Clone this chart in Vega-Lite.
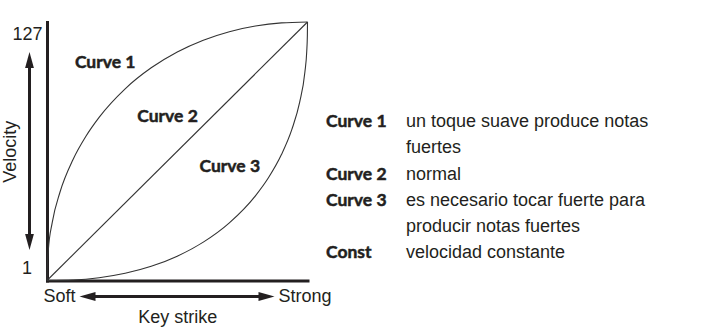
{
  "$schema": "https://vega.github.io/schema/vega-lite/v6.json",
  "background": "white",
  "padding": {"left": 1, "top": 19, "right": 0, "bottom": 0},
  "bounds": "flush",
  "spacing": 18,
  "config": {"view": {"stroke": null}, "font": "Liberation Sans"},
  "hconcat": [
    {
      "width": 260.5,
      "height": 258.5,
      "encoding": {
        "x": {
          "field": "strike",
          "type": "quantitative",
          "scale": {"domain": [0, 1], "nice": false, "zero": false},
          "axis": {
            "title": "Key strike",
            "values": [0, 1],
            "labelExpr": "datum.value == 0 ? 'Soft' : 'Strong'",
            "ticks": false,
            "tickSize": 0,
            "grid": false,
            "domainColor": "#231f20",
            "domainWidth": 3,
            "domainCap": "square",
            "labelFontSize": 18,
            "labelColor": "#231f20",
            "labelBaseline": "middle",
            "labelPadding": 16,
            "labelOffset": {"condition": {"test": "datum.value == 0", "value": 12}, "value": -3},
            "labelFlush": false,
            "labelOverlap": false,
            "titleFontSize": 18,
            "titleFontWeight": "normal",
            "titleColor": "#231f20",
            "titlePadding": 3
          }
        },
        "y": {
          "field": "velocity",
          "type": "quantitative",
          "scale": {"domain": [1, 127], "nice": false, "zero": false},
          "axis": {
            "title": "Velocity",
            "ticks": false,
            "tickSize": 0,
            "labels": false,
            "grid": false,
            "domainColor": "#231f20",
            "domainWidth": 3,
            "domainCap": "square",
            "titleFontSize": 18,
            "titleFontWeight": "normal",
            "titleColor": "#231f20",
            "titlePadding": 28
          }
        }
      },
      "layer": [
        {
          "data": {
            "values": [
              {"curve": "Curve 1", "strike": 0, "velocity": 1},
              {"curve": "Curve 1", "strike": 0.0005, "velocity": 5.98},
              {"curve": "Curve 1", "strike": 0.005, "velocity": 15.73},
              {"curve": "Curve 1", "strike": 0.02, "velocity": 29.22},
              {"curve": "Curve 1", "strike": 0.05, "velocity": 44.13},
              {"curve": "Curve 1", "strike": 0.1, "velocity": 59.99},
              {"curve": "Curve 1", "strike": 0.15, "velocity": 71.43},
              {"curve": "Curve 1", "strike": 0.2, "velocity": 80.52},
              {"curve": "Curve 1", "strike": 0.3, "velocity": 94.44},
              {"curve": "Curve 1", "strike": 0.4, "velocity": 104.67},
              {"curve": "Curve 1", "strike": 0.5, "velocity": 112.38},
              {"curve": "Curve 1", "strike": 0.6, "velocity": 118.13},
              {"curve": "Curve 1", "strike": 0.7, "velocity": 122.28},
              {"curve": "Curve 1", "strike": 0.8, "velocity": 125.02},
              {"curve": "Curve 1", "strike": 0.9, "velocity": 126.55},
              {"curve": "Curve 1", "strike": 1, "velocity": 127},
              {"curve": "Curve 2", "strike": 0, "velocity": 1},
              {"curve": "Curve 2", "strike": 1, "velocity": 127},
              {"curve": "Curve 3", "strike": 0, "velocity": 1},
              {"curve": "Curve 3", "strike": 0.1, "velocity": 1.27},
              {"curve": "Curve 3", "strike": 0.2, "velocity": 2.36},
              {"curve": "Curve 3", "strike": 0.3, "velocity": 4.5},
              {"curve": "Curve 3", "strike": 0.4, "velocity": 7.9},
              {"curve": "Curve 3", "strike": 0.5, "velocity": 12.84},
              {"curve": "Curve 3", "strike": 0.6, "velocity": 19.7},
              {"curve": "Curve 3", "strike": 0.7, "velocity": 29.1},
              {"curve": "Curve 3", "strike": 0.8, "velocity": 42.27},
              {"curve": "Curve 3", "strike": 0.85, "velocity": 51.08},
              {"curve": "Curve 3", "strike": 0.9, "velocity": 62.39},
              {"curve": "Curve 3", "strike": 0.94, "velocity": 74.65},
              {"curve": "Curve 3", "strike": 0.97, "velocity": 87.93},
              {"curve": "Curve 3", "strike": 0.99, "velocity": 102.63},
              {"curve": "Curve 3", "strike": 0.997, "velocity": 112.54},
              {"curve": "Curve 3", "strike": 0.9995, "velocity": 120.4},
              {"curve": "Curve 3", "strike": 1, "velocity": 127}
            ]
          },
          "mark": {"type": "line", "interpolate": "monotone", "strokeWidth": 1.1, "color": "#333333"},
          "encoding": {"detail": {"field": "curve"}}
        },
        {
          "data": {
            "values": [
              {"strike": -0.0672, "velocity": 109.5, "strike2": -0.0672, "velocity2": 18.9},
              {"strike": 0.1478, "velocity": -6.8, "strike2": 0.8503, "velocity2": -6.8}
            ]
          },
          "mark": {"type": "rule", "strokeWidth": 3, "color": "#231f20"},
          "encoding": {"x2": {"field": "strike2"}, "y2": {"field": "velocity2"}}
        },
        {
          "data": {
            "values": [
              {"strike": -0.0672, "velocity": 112.4, "dir": "up"},
              {"strike": -0.0672, "velocity": 15.9, "dir": "down"},
              {"strike": 0.1248, "velocity": -6.8, "dir": "left"},
              {"strike": 0.8733, "velocity": -6.8, "dir": "right"}
            ]
          },
          "mark": {"type": "point", "filled": true, "size": 256, "opacity": 1, "color": "#231f20"},
          "encoding": {
            "shape": {
              "field": "dir",
              "type": "nominal",
              "scale": {
                "domain": ["up", "down", "left", "right"],
                "range": ["M0,0L-0.55,2L0.55,2Z", "M0,0L-0.55,-2L0.55,-2Z", "M0,0L2,-0.55L2,0.55Z", "M0,0L-2,-0.55L-2,0.55Z"]
              },
              "legend": null
            }
          }
        },
        {
          "data": {
            "values": [
              {"strike": -0.0749, "velocity": 120.7, "label": "127"},
              {"strike": -0.0768, "velocity": 6.4, "label": "1"}
            ]
          },
          "mark": {"type": "text", "fontSize": 18, "align": "center", "baseline": "middle", "color": "#231f20"},
          "encoding": {"text": {"field": "label"}}
        },
        {
          "data": {
            "values": [
              {"strike": 0.2234, "velocity": 106.9, "label": "Curve 1"},
              {"strike": 0.4626, "velocity": 80.8, "label": "Curve 2"},
              {"strike": 0.7017, "velocity": 56.5, "label": "Curve 3"}
            ]
          },
          "mark": {"type": "text", "font": "Lato", "fontWeight": "bold", "fontSize": 17.5, "align": "center", "baseline": "middle", "fill": "#231f20", "stroke": "#231f20", "strokeWidth": 0.5},
          "encoding": {"text": {"field": "label"}}
        }
      ]
    },
    {
      "width": 80,
      "height": 258.5,
      "data": {
        "values": [
          {"row": 0, "key": "Curve 1", "desc": "un toque suave produce notas"},
          {"row": 1, "key": "", "desc": "fuertes"},
          {"row": 2, "key": "Curve 2", "desc": "normal"},
          {"row": 3, "key": "Curve 3", "desc": "es necesario tocar fuerte para"},
          {"row": 4, "key": "", "desc": "producir notas fuertes"},
          {"row": 5, "key": "Const", "desc": "velocidad constante"}
        ]
      },
      "encoding": {
        "y": {
          "field": "row",
          "type": "quantitative",
          "scale": {"domain": [-3.836, 6.05], "reverse": true, "nice": false, "zero": false},
          "axis": null
        }
      },
      "layer": [
        {
          "transform": [{"filter": "datum.key != ''"}],
          "mark": {"type": "text", "font": "Lato", "fontWeight": "bold", "fontSize": 17.5, "align": "left", "baseline": "middle", "fill": "#231f20", "stroke": "#231f20", "strokeWidth": 0.5},
          "encoding": {
            "x": {"datum": 0, "type": "quantitative", "scale": {"domain": [0, 1], "nice": false, "zero": false}, "axis": null},
            "text": {"field": "key"}
          }
        },
        {
          "mark": {"type": "text", "fontSize": 18, "align": "left", "baseline": "middle", "color": "#231f20"},
          "encoding": {
            "x": {"datum": 1, "type": "quantitative", "scale": {"domain": [0, 1], "nice": false, "zero": false}, "axis": null},
            "text": {"field": "desc"}
          }
        }
      ]
    }
  ]
}
